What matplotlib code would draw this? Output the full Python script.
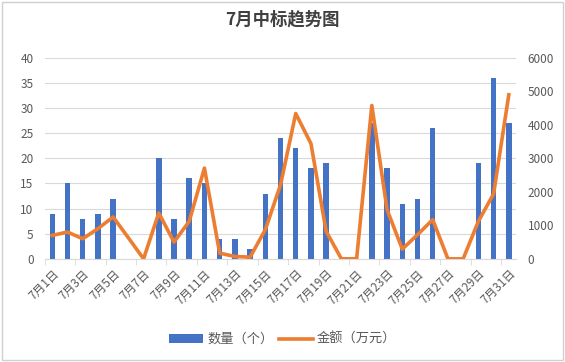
import numpy as np
import matplotlib.pyplot as plt
from matplotlib.patches import Rectangle

plt.rcParams['font.family'] = ['Noto Sans CJK SC', 'DejaVu Sans']

# Data
days = [f'7月{d}日' for d in range(1, 32)]
counts = [9, 15, 8, 9, 12, 0, 0, 20, 8, 16, 15, 4, 4, 2, 13, 24,
          22, 18, 19, 0, 0, 27, 18, 11, 12, 26, 0, 0, 19, 36, 27]
amounts = [700, 800, 600, 900, 1250, 630, 0, 1370, 500, 1120, 2710, 170, 70, 50, 870, 2210,
           4340, 3440, 820, 0, 0, 4580, 1470, 290, 720, 1170, 0, 0, 1120, 1940, 4900]

blue = '#4472C4'
orange = '#ED7D31'
grey = '#595959'

fig = plt.figure(figsize=(5.65, 3.62), dpi=100)
ax = fig.add_axes([0.079, 0.285, 0.835, 0.555])
ax2 = ax.twinx()

x = np.arange(len(days))
ax.bar(x, counts, width=0.36, color=blue, label='数量（个）', zorder=2)
ax2.plot(x, amounts, color=orange, linewidth=2.6, label='金额（万元）', zorder=3)

ax.set_xlim(-0.5, len(days) - 0.5)
ax.set_ylim(0, 40)
ax.set_yticks(range(0, 41, 5))
ax2.set_ylim(0, 6000)
ax2.set_yticks(range(0, 6001, 1000))

ax.set_xticks(x[::2])
ax.set_xticklabels(days[::2], rotation=45, ha='right', rotation_mode='anchor',
                   fontsize=8.5, color=grey)
ax.set_xticks(np.arange(-0.5, len(days), 2), minor=True)
ax.tick_params(axis='x', which='major', length=0, pad=6)
ax.tick_params(axis='x', which='minor', length=4, color='#D9D9D9')
ax.tick_params(axis='y', length=0, labelsize=8.5, labelcolor=grey, pad=8)
ax2.tick_params(axis='y', length=0, labelsize=8.5, labelcolor=grey, pad=8)

ax.grid(axis='y', color='#D9D9D9', linewidth=0.8, zorder=0)
ax.set_axisbelow(True)
for a in (ax, ax2):
    for s in ['top', 'left', 'right']:
        a.spines[s].set_visible(False)
    a.spines['bottom'].set_color('#D9D9D9')
ax2.spines['bottom'].set_visible(False)

ax.set_zorder(ax2.get_zorder() - 1)
ax2.patch.set_visible(False)

fig.suptitle('7月中标趋势图', x=0.5, y=0.97, fontsize=12.5, fontweight='bold', color='#404040')

h1, l1 = ax.get_legend_handles_labels()
h2, l2 = ax2.get_legend_handles_labels()
fig.legend(h1 + h2, l1 + l2, loc='center', bbox_to_anchor=(0.5, 0.062), ncol=2,
           frameon=False, fontsize=9.5, labelcolor=grey, handlelength=2.6,
           handleheight=0.6, columnspacing=0.4, handletextpad=0.3)

fig.patches.append(Rectangle((0.004, 0.006), 0.992, 0.988, transform=fig.transFigure,
                             fill=False, edgecolor='#D0D0D0', linewidth=1))

fig.savefig('out.png', dpi=100)
